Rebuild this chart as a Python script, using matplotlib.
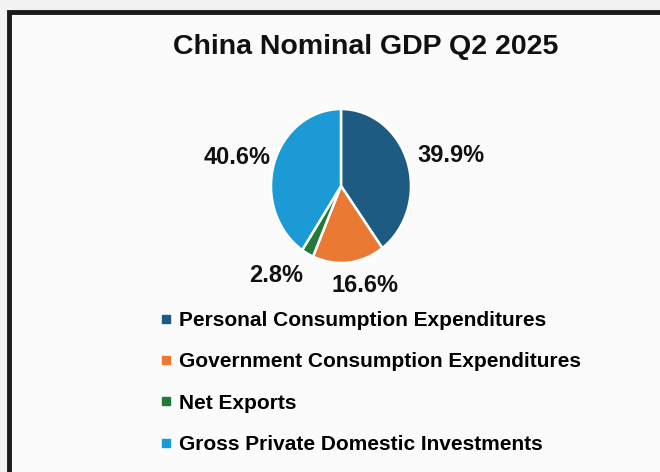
import matplotlib
matplotlib.use("Agg")
import matplotlib.pyplot as plt
from matplotlib.lines import Line2D
from matplotlib.patches import Rectangle

title = "China Nominal GDP Q2 2025"
categories = [
    "Personal Consumption Expenditures",
    "Government Consumption Expenditures",
    "Net Exports",
    "Gross Private Domestic Investments",
]
shares = [39.9, 16.6, 2.8, 40.6]
colors = ["#1d5b82", "#ea7a33", "#23793a", "#1c9ad6"]

base = "Liberation Sans"

W, H = 660, 472
fig = plt.figure(figsize=(W / 100, H / 100), dpi=100)
fig.patch.set_facecolor("#f2f2f2")

# white panel with a dark frame running off the right and bottom edges
panel = Rectangle((9 / W, -0.1), 1, (H - 12) / H + 0.1, transform=fig.transFigure,
                  facecolor="#fbfbfb", edgecolor="#1a1a1a", linewidth=3.5,
                  clip_on=False, zorder=-5)
fig.patches.append(panel)

fig.text(366 / W, 1 - 47 / H, title, ha="center", va="center",
         fontsize=20.5, fontweight="bold", family=base, color="#111111")

# pie axes: centre (341, 186) px, radii 70 x 77 px
cx, cy, rx, ry = 341, 186, 70, 77
ax = fig.add_axes([(cx - rx) / W, (H - cy - ry) / H, 2 * rx / W, 2 * ry / H])
ax.axis("off")
ax.pie(shares, colors=colors, startangle=90, counterclock=False, radius=1,
       wedgeprops=dict(edgecolor="white", linewidth=1.8))
ax.set_aspect("auto")
ax.set_xlim(-1, 1)
ax.set_ylim(-1, 1)

label_pos = [(451, 156), (365, 285), (276, 275), (237, 157)]
for v, (x, y) in zip(shares, label_pos):
    fig.text(x / W, 1 - y / H, f"{v:.1f}%", ha="center", va="center",
             fontsize=17, fontweight="bold", family=base, color="#111111")

handles = [Line2D([], [], marker="s", linestyle="none", markersize=5.5,
                  markerfacecolor=c, markeredgecolor=c) for c in colors]
leg = fig.legend(handles, categories, loc="upper left",
                 bbox_to_anchor=(161 / W, 1 - 311 / H), frameon=False,
                 prop=dict(family=base, weight="bold", size=15),
                 handlelength=0.5, handletextpad=0.35, labelspacing=1.07,
                 borderpad=0, borderaxespad=0)

fig.savefig("out.png", dpi=100, facecolor=fig.get_facecolor())
